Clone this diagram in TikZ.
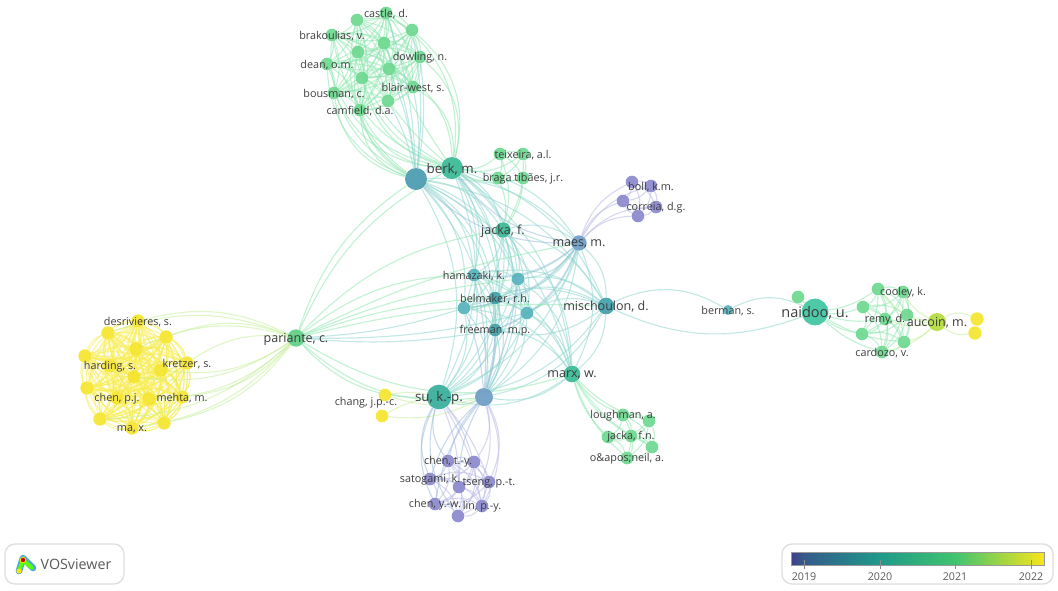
\documentclass[tikz,border=0pt]{standalone}
\usepackage{fontspec}
\setmainfont{Open Sans}
\usetikzlibrary{backgrounds}
\definecolor{topgreen}{HTML}{6DD88F}
\definecolor{hubteal}{HTML}{4A9AB0}
\definecolor{berkgreen}{HTML}{37B894}
\definecolor{naigreen}{HTML}{3FC4A0}
\definecolor{suteal}{HTML}{35AE9B}
\definecolor{sunyellow}{HTML}{F5E52E}
\definecolor{parigreen}{HTML}{5CCF84}
\definecolor{sublue}{HTML}{6C9CC6}
\definecolor{lilac}{HTML}{8B88CC}
\definecolor{midteal}{HTML}{56B2BC}
\definecolor{misteal}{HTML}{41A0A8}
\definecolor{lime}{HTML}{B2DC3A}
\definecolor{linkgreen}{HTML}{8FE6B0}
\definecolor{linkteal}{HTML}{90D6CE}
\definecolor{linkblue}{HTML}{9DBCDC}
\definecolor{linklilac}{HTML}{B9B8E6}
\definecolor{linkyellow}{HTML}{F7EC55}
\definecolor{linklime}{HTML}{C6EE9C}
\definecolor{inktext}{HTML}{3C3C3C}
\definecolor{barone}{HTML}{3F3F8C}
\definecolor{bartwo}{HTML}{1F9A8A}
\definecolor{barthree}{HTML}{3FC46F}
\definecolor{barfour}{HTML}{F8E51B}
\tikzset{
  author/.style={circle,inner sep=0pt,draw=none,fill=#1,fill opacity=.92},
  topnode/.style={author=topgreen,minimum size=9.5pt},
  sunnode/.style={author=sunyellow,minimum size=10pt},
  lilnode/.style={author=lilac,minimum size=9.5pt},
  midnode/.style={author=midteal,minimum size=9.5pt},
  names/.style={font=\fontsize{8.1}{9}\selectfont,text=inktext,inner sep=0pt,fill opacity=1,text opacity=1,yshift=-.7pt},
  midnames/.style={names,font=\fontsize{9.4}{10}\selectfont},
  bignames/.style={names,font=\fontsize{10}{11}\selectfont},
  topnames/.style={names,font=\fontsize{10.9}{12}\selectfont},
  link/.style={line width=.85pt,draw=#1,opacity=.55},
  frame/.style={draw=black!13,line width=1pt,rounded corners=7.5pt,fill=white},
  tick/.style={draw=black!45,line width=.6pt},
  years/.style={font=\fontsize{8}{9}\selectfont,text=black!65,inner sep=0pt},
}
\newcommand{\clique}[3]{\foreach \a [count=\i] in {#1} {\foreach \b [count=\j] in {#1} {\ifnum\j>\i \draw[link=#2] (\a) to[bend left=#3] (\b);\fi}}}
\newcommand{\fan}[4]{\foreach \a in {#1} {\draw[link=#3] (\a) to[#4] (#2);}}
\begin{document}
\begin{tikzpicture}[x=.75pt,y=-.75pt]
  \useasboundingbox (0,0) rectangle (1058,590);
  % top cluster
  \foreach \n/\x/\y in {topa/357/20,topb/412/30,topc/384/43,topd/358/52,tope/389/69,topf/362/78,topg/388/101}
    \node[topnode] (\n) at (\x,\y) {};
  \node[topnode,label={[names]center:{castle, d.}}] (castle) at (386,13) {};
  \node[topnode,label={[names]center:{brakoulias, v.}}] (brakoulias) at (332,35) {};
  \node[topnode,label={[names]center:{dowling, n.}}] (dowling) at (420,57) {};
  \node[topnode,label={[names]center:{dean, o.m.}}] (dean) at (327,64) {};
  \node[topnode,label={[names]center:{blair-west, s.}}] (blair) at (413,87) {};
  \node[topnode,label={[names]center:{bousman, c.}}] (bousman) at (334,93) {};
  \node[topnode,label={[names]center:{camfield, d.a.}}] (camfield) at (360,110) {};
  % hubs
  \node[author=hubteal,minimum size=16.5pt] (bigteal) at (416,179) {};
  \node[author=berkgreen,minimum size=16.5pt,label={[bignames]center:{berk, m.}}] (berk) at (452,168) {};
  \node[author=berkgreen,minimum size=11.5pt,label={[midnames]center:{jacka, f.}}] (jackaf) at (503,230) {};
  \node[author=sublue,minimum size=11.5pt,label={[midnames]center:{maes, m.}}] (maes) at (579,243) {};
  \node[author=midteal,minimum size=9.5pt,label={[names]center:{hamazaki, k.}}] (hamazaki) at (474,275) {};
  \node[midnode] (midb) at (518,279) {};
  \node[midnode] (midc) at (464,308) {};
  \node[midnode] (midd) at (527,313) {};
  \node[author=misteal,minimum size=9.5pt,label={[names]center:{belmaker, r.h.}}] (belmaker) at (495,298) {};
  \node[author=misteal,minimum size=9.5pt,label={[names]center:{freeman, m.p.}}] (freeman) at (495,330) {};
  \node[author=misteal,minimum size=12.5pt,label={[midnames]center:{mischoulon, d.}}] (mischoulon) at (606,306) {};
  \node[author=berkgreen,minimum size=12.5pt,label={[midnames]center:{marx, w.}}] (marx) at (572,374) {};
  \node[author=sublue,minimum size=13.5pt] (subblue) at (484,397) {};
  \node[author=suteal,minimum size=18.5pt,label={[bignames]center:{su, k.-p.}}] (su) at (439,397) {};
  \node[author=parigreen,minimum size=13pt,label={[midnames]center:{pariante, c.}}] (pariante) at (296,338) {};
  % teixeira group
  \node[topnode] (teia) at (500,154) {};
  \node[topnode,label={[names]center:{teixeira, a.l.}}] (teixeira) at (523,154) {};
  \node[topnode] (brab) at (498,178) {};
  \node[topnode,label={[names]center:{braga tibães, j.r.}}] (braga) at (523,178) {};
  % purple group
  \node[lilnode] (bolla) at (632,182) {};
  \node[lilnode] (bollb) at (623,201) {};
  \node[lilnode] (bollc) at (638,216) {};
  \node[lilnode,label={[names]center:{boll, k.m.}}] (boll) at (651,186) {};
  \node[lilnode,label={[names]center:{correia, d.g.}}] (correia) at (656,207) {};
  % yellow cluster
  \foreach \n/\x/\y in {suna/108/333,sunb/166/337,sunc/136/349,sund/85/356,sune/161/370,sunf/134/377,sung/87/388,sunh/149/399,suni/100/419,sunj/164/423}
    \node[sunnode] (\n) at (\x,\y) {};
  \node[sunnode,label={[names]center:{desrivieres, s.}}] (desrivieres) at (138,321) {};
  \node[sunnode,label={[names]center:{harding, s.}}] (harding) at (110,366) {};
  \node[sunnode,label={[names]center:{kretzer, s.}}] (kretzer) at (187,363) {};
  \node[sunnode,label={[names]center:{chen, p.j.}}] (chenpj) at (117,398) {};
  \node[sunnode,label={[names]center:{mehta, m.}}] (mehta) at (182,397) {};
  \node[sunnode,label={[names]center:{ma, x.}}] (ma) at (132,428) {};
  % chang
  \node[sunnode,minimum size=9.5pt] (changb) at (382,416) {};
  \node[sunnode,minimum size=9.5pt] (chang) at (385,395) {};
  \node[names] (changname) at (366,402) {chang, j.p.-c.};
  % bottom cluster
  \foreach \n/\x/\y in {lila/474/462,lilb/459/487,lilc/458/516}
    \node[lilnode] (\n) at (\x,\y) {};
  \node[lilnode,label={[names]center:{chen, t.-y.}}] (chenty) at (448,461) {};
  \node[lilnode,label={[names]center:{satogami, k.}}] (satogami) at (430,479) {};
  \node[lilnode,label={[names]center:{tseng, p.-t.}}] (tseng) at (489,482) {};
  \node[lilnode,label={[names]center:{chen, y.-w.}}] (chenyw) at (435,504) {};
  \node[lilnode,label={[names]center:{lin, p.-y.}}] (lin) at (482,506) {};
  % marx group
  \foreach \n/\x/\y in {marb/649/421,mara/608/437,mard/652/447}
    \node[topnode] (\n) at (\x,\y) {};
  \node[topnode,label={[names]center:{loughman, a.}}] (loughman) at (623,415) {};
  \node[topnode,label={[names]center:{jacka, f.n.}}] (jackafn) at (631,436) {};
  \node[topnode,label={[names]center:{o\&apos;neil, a.}}] (oneil) at (627,458) {};
  % right side
  \node[author=midteal,minimum size=7.5pt,label={[names]center:{berman, s.}}] (berman) at (728,310) {};
  \node[topnode] (naib) at (798,297) {};
  \foreach \n/\x/\y in {naic/878/289,naid/863/307,naie/907/315,naif/862/334,naig/904/342}
    \node[topnode] (\n) at (\x,\y) {};
  \node[topnode,label={[names]center:{cooley, k.}}] (cooley) at (903,292) {};
  \node[topnode,label={[names]center:{remy, d.}}] (remy) at (885,319) {};
  \node[topnode,label={[names]center:{cardozo, v.}}] (cardozo) at (882,352) {};
  \node[author=naigreen,minimum size=20pt,label={[topnames]center:{naidoo, u.}}] (naidoo) at (815,312) {};
  \node[sunnode] (auca) at (977,319) {};
  \node[sunnode] (aucb) at (975,333) {};
  \node[author=lime,minimum size=13.5pt,label={[midnames]center:{aucoin, m.}}] (aucoin) at (937,322) {};
  % links
  \begin{scope}[on background layer]
    \clique{castle,topa,topb,brakoulias,topc,topd,dowling,dean,tope,topf,blair,bousman,topg,camfield}{linkgreen}{18}
    \fan{brakoulias,dean,bousman,camfield,topa,topd,topf}{bigteal}{linkgreen}{bend right=34}
    \fan{brakoulias,dean,bousman,camfield,topa,topd,topf}{berk}{linkgreen}{bend right=30}
    \fan{castle,topc,tope,topg,blair,dowling,topb}{bigteal}{linkteal}{bend left=8}
    \fan{castle,topb,dowling,blair,tope}{berk}{linkgreen}{bend left=32}
    \fan{topc,topg}{berk}{linkgreen}{bend right=6}
    \clique{teia,teixeira,braga,brab}{linkgreen}{16}
    \fan{teia,teixeira,braga,brab}{berk}{linkgreen}{bend left=22}
    \fan{teia,teixeira,braga,brab}{jackaf}{linkgreen}{bend left=16}
    \clique{bigteal,berk,jackaf,maes,hamazaki,midb,belmaker,midc,midd,mischoulon,freeman,marx,subblue,su}{linkteal}{24}
    \fan{hamazaki,midb,belmaker,freeman,midc}{subblue}{linkblue}{bend left=8}
    \fan{bigteal,berk,hamazaki,freeman,midc}{maes}{linkblue}{bend right=22}
    \clique{bolla,boll,correia,bollc,bollb}{linklilac}{20}
    \fan{bolla,boll,correia,bollc,bollb}{maes}{linklilac}{bend right=22}
    \clique{desrivieres,suna,sunb,sunc,sund,harding,kretzer,sune,sunf,sung,chenpj,sunh,mehta,suni,sunj,ma}{linkyellow}{24}
    \clique{desrivieres,suna,sund,sung,suni,ma,sunj,mehta,kretzer,sunb,harding,sunc,sunf,sune,chenpj,sunh}{linkyellow}{-24}
    \fan{desrivieres,sunb,suna,sunc,kretzer}{pariante}{linklime}{bend left=20}
    \fan{sune,sunf,mehta,sunh,sunj,ma,suni}{pariante}{linklime}{bend right=20}
    \fan{bigteal,berk,jackaf,hamazaki}{pariante}{linkgreen}{bend right=18}
    \fan{maes,midb,belmaker,mischoulon}{pariante}{linkgreen}{bend right=8}
    \fan{midc,freeman,midd}{pariante}{linkteal}{bend left=7}
    \fan{su,subblue,marx}{pariante}{linkgreen}{bend left=24}
    \fan{chang,changb}{su}{linklime}{bend left=10}
    \fan{chang,changb}{subblue}{linklime}{bend right=16}
    \clique{chenty,lila,satogami,lilb,tseng,chenyw,lin,lilc}{linklilac}{24}
    \fan{chenty,satogami,chenyw,lilc}{su}{linkblue}{bend left=26}
    \fan{lila,tseng,lin,lilb}{su}{linklilac}{bend right=10}
    \fan{chenty,satogami,lilb,chenyw}{subblue}{linkblue}{bend left=14}
    \fan{lila,tseng,lin,lilc}{subblue}{linklilac}{bend right=26}
    \clique{loughman,marb,jackafn,mara,mard,oneil}{linkgreen}{22}
    \fan{loughman,marb,jackafn,mara,mard,oneil}{marx}{linkgreen}{bend left=14}
    \draw[link=linkteal] (mischoulon) to[bend left=28] (berman);
    \draw[link=linkteal] (berman) to[bend left=26] (naidoo);
    \draw[link=linkteal] (mischoulon) to[bend right=22] (naidoo);
    \draw[link=linkgreen] (naib) to (naidoo);
    \clique{naic,cooley,naid,naie,remy,naif,naig,cardozo}{linkgreen}{20}
    \fan{naic,naid,naif,cardozo,naig,remy}{naidoo}{linkgreen}{bend left=12}
    \fan{cooley,naie,naig,cardozo,remy}{aucoin}{linklime}{bend right=16}
    \draw[link=linklime] (aucoin) to[bend left=28] (auca);
    \draw[link=linklime] (aucoin) to[bend right=24] (aucb);
    \draw[link=linklime] (aucoin) to[bend left=22] (naic);
  \end{scope}
  % logo box
  \draw[frame] (5,544) rectangle (124,584);
  \draw[line width=5pt,line cap=round,line join=round,draw=cyan!60!teal!80] (19,571) -- (23,558) -- (33,568);
  \draw[line width=2.8pt,line cap=round,line join=round,draw=green!65!yellow] (19,571) -- (23,560) -- (32,568);
  \fill[yellow!85!orange] (19,571) circle [radius=2.6];
  \fill[yellow!85!orange] (23,560) circle [radius=3.2];
  \fill[red!80!black] (23,560) circle [radius=2.2];
  \node[inner sep=0pt,font=\fontsize{10.7}{11}\selectfont,text=black!65] (vos) at (76,564) {VOSviewer};
  % colour bar
  \draw[frame] (782,544) rectangle (1053,584);
  \shade[left color=barone,right color=barone!70!bartwo] (791,552) rectangle (804,565);
  \shade[left color=barone!70!bartwo,right color=bartwo] (804,552) rectangle (880,565);
  \shade[left color=bartwo,right color=barthree] (880,552) rectangle (955,565);
  \shade[left color=barthree,right color=barfour] (955,552) rectangle (1044,565);
  \draw[black!40,line width=.6pt] (791,552) rectangle (1044,565);
  \foreach \x/\yr in {804/2019,880/2020,955/2021,1031/2022} {
    \draw[tick] (\x,560) -- (\x,569);
    \node[years] (y\yr) at (\x,577) {\yr};
  }
\end{tikzpicture}
\end{document}
